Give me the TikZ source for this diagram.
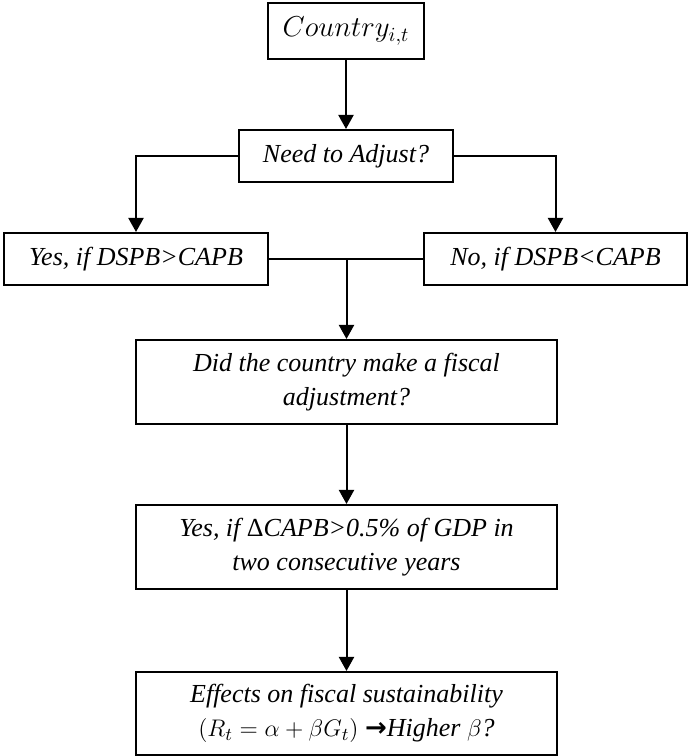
\documentclass[tikz,border=0pt]{standalone}
\usepackage{fontspec}
\setmainfont{Liberation Serif}
\newfontfamily\arrowfont{DejaVu Sans}
\usetikzlibrary{arrows.meta}
\tikzset{flowbox/.style={draw,line width=1pt,inner sep=0pt,align=center,
           font=\fontsize{13}{17}\selectfont\itshape},
         flowarrow/.style={line width=1pt,-{Triangle[length=7pt,width=7.5pt]}}}
\begin{document}
\begin{tikzpicture}[x=.5pt,y=.5pt]
\useasboundingbox (0,0) rectangle (687,756);
\node[flowbox,minimum width=78pt,minimum height=28pt,font=\fontsize{14.5}{17}\selectfont] (country) at (346,725) {$Country_{i,t}$};
\node[flowbox,minimum width=107pt,minimum height=26pt] (need) at (346,600) {Need to Adjust?};
\node[flowbox,minimum width=132pt,minimum height=26pt] (yes) at (136,497) {Yes, if DSPB>CAPB};
\node[flowbox,minimum width=131.5pt,minimum height=26pt] (no) at (555.5,497) {No, if DSPB<CAPB};
\node[flowbox,minimum width=210.5pt,minimum height=42pt] (did) at (346.5,374)
     {Did the country make a fiscal\\ adjustment?};
\node[flowbox,minimum width=210.5pt,minimum height=42pt] (capb) at (346.5,209)
     {Yes, if {\upshape Δ}CAPB>0.5\% of GDP in\\ two consecutive years};
\node[flowbox,minimum width=210.5pt,minimum height=41.5pt] (effects) at (346.5,42.5)
     {Effects on fiscal sustainability\\ $(R_t=\alpha+\beta G_t)$ {\upshape\arrowfont\bfseries →}Higher $\beta$?};
\coordinate (join) at (yes.east -| did.north);
\draw[flowarrow] (country) -- (need);
\draw[flowarrow] (need.west) -| (yes);
\draw[flowarrow] (need.east) -| (no);
\draw[line width=1pt] (yes) -- (no);
\draw[flowarrow] (join) -- (did);
\draw[flowarrow] (did) -- (capb);
\draw[flowarrow] (capb) -- (effects);
\end{tikzpicture}
\end{document}
